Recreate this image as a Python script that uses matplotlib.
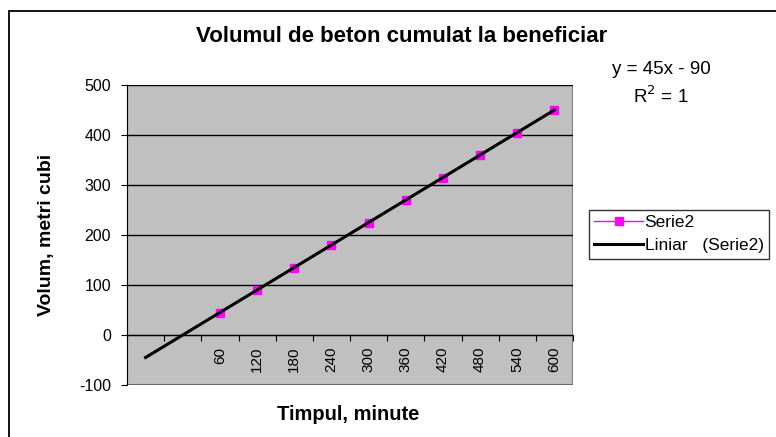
import numpy as np
import matplotlib
matplotlib.use('Agg')
import matplotlib.pyplot as plt
from matplotlib.patches import Rectangle

plt.rcParams['font.family'] = ['Liberation Sans', 'DejaVu Sans']
plt.rcParams['axes.unicode_minus'] = False

# categories on the x axis (first two are blank in the source sheet)
categorii = ['', '', '60', '120', '180', '240', '300', '360', '420', '480', '540', '600']
volum = [np.nan, np.nan, 45, 90, 135, 180, 225, 270, 315, 360, 405, 450]
y_ticks = [-100, 0, 100, 200, 300, 400, 500]

x = np.arange(1, len(categorii) + 1)
v = np.array(volum, dtype=float)
ok = ~np.isnan(v)

# linear trendline, like Excel
a, b = np.polyfit(x[ok], v[ok], 1)
trend = a * x + b

W, H = 776, 437
fig = plt.figure(figsize=(W / 100, H / 100), dpi=100)
ax = fig.add_axes([127 / W, 1 - 385 / H, (573 - 127) / W, (385 - 85) / H])
ax.set_facecolor('#c0c0c0')

# Serie2 and trendline
ax.plot(x, v, color='#ff00ff', lw=1, marker='s', markersize=5.5,
        markeredgecolor='#ff00ff', label='Serie2', zorder=3)
ax.plot(x, trend, color='black', lw=2.2, label='Liniar   (Serie2)', zorder=4)

ax.set_xlim(0.5, len(categorii) + 0.5)
ax.set_ylim(-100, 500)
ax.set_yticks(y_ticks)
ax.yaxis.grid(True, color='black', lw=1)
ax.set_axisbelow(True)

# category axis crossing at zero
ax.spines['bottom'].set_position(('data', 0))
ax.spines['bottom'].set_color('black')
ax.spines['left'].set_color('black')
ax.spines['top'].set_visible(False)
ax.spines['right'].set_visible(False)
ax.add_patch(Rectangle((0, 0), 1, 1, transform=ax.transAxes, fill=False,
                       edgecolor='#808080', lw=1.5, zorder=0.5))

ax.set_xticks(np.arange(0.5, len(categorii) + 1, 1))
ax.set_xticklabels([])
ax.set_xticks(x, minor=True)
ax.set_xticklabels(categorii, minor=True, rotation=90, va='top', fontsize=11)
ax.tick_params(axis='x', which='major', direction='out', length=4, color='black')
ax.tick_params(axis='x', which='minor', length=0, pad=8.5)
ax.tick_params(axis='y', direction='out', length=4.5, pad=7, labelsize=11.5)

fig.text(402 / W, 1 - 36 / H, 'Volumul de beton cumulat la beneficiar',
         ha='center', va='center', fontsize=16, fontweight='bold')
fig.text(348 / W, 1 - 414 / H, 'Timpul, minute', ha='center', va='center',
         fontsize=14.5, fontweight='bold')
fig.text(47 / W, 1 - 235 / H, 'Volum, metri cubi', ha='center', va='center',
         rotation=90, fontsize=14, fontweight='bold')

# trendline equation
fig.text(661 / W, 1 - 69 / H, f'y = {a:.0f}x - {abs(b):.0f}', ha='center',
         va='center', fontsize=13.5)
fig.text(661 / W, 1 - 96 / H, r'R$^2$ = 1', ha='center', va='center', fontsize=13.5)

leg = ax.legend(loc='upper left', bbox_to_anchor=(589 / W, 1 - 210 / H),
                bbox_transform=fig.transFigure, frameon=True, fancybox=False,
                fontsize=12.5, handlelength=2.8, borderpad=0.3,
                labelspacing=0.45, handletextpad=0.1, borderaxespad=0)
leg.get_frame().set_edgecolor('black')
leg.get_frame().set_linewidth(1)

# chart area border (cut on right and bottom)
fig.patches.append(Rectangle((9 / W, -0.1), 1.2, 1.1 - 11 / H,
                             transform=fig.transFigure, fill=False,
                             edgecolor='black', lw=1.3))

plt.savefig('out.png', dpi=100)
